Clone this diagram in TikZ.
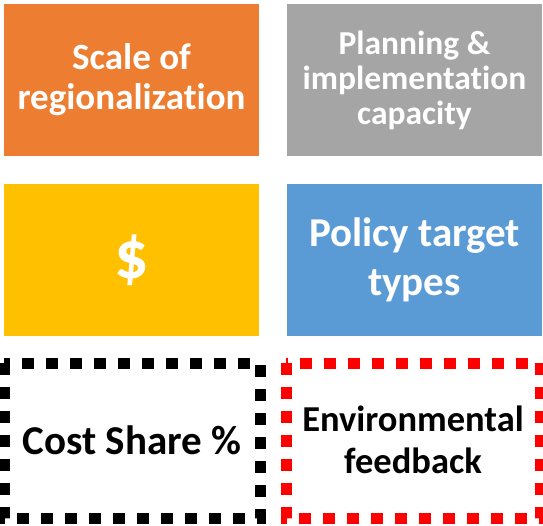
\documentclass[tikz,border=0pt]{standalone}
\usepackage{fontspec}
\setmainfont{Carlito}[RawFeature={-liga;-clig;-calt;-dlig}]
\definecolor{cOrange}{HTML}{ED7D31}
\definecolor{cGray}{HTML}{A5A5A5}
\definecolor{cYellow}{HTML}{FFC000}
\definecolor{cBlue}{HTML}{5B9BD5}
\definecolor{cRed}{HTML}{FF0000}
\newcommand{\nolig}{\kern0pt }
\begin{document}
\begin{tikzpicture}[x=1pt,y=-1pt,
  fillbox/.style={draw=none,rectangle,inner sep=0pt,text=white,font=\bfseries,align=center},
  dotbox/.style={line width=11pt,dash pattern=on 12pt off 12pt,line cap=butt},
  lbl/.style={inner sep=0pt,align=center,font=\bfseries}]
\useasboundingbox (0,0) rectangle (543,525);
% filled boxes
\node[fillbox,fill=cOrange,minimum width=255pt,minimum height=152pt] (scale) at (131.5,80) {};
\node[fillbox,fill=cGray,minimum width=255pt,minimum height=152pt] (plan) at (414.5,80) {};
\node[fillbox,fill=cYellow,minimum width=255pt,minimum height=152pt] (money) at (131.5,260) {};
\node[fillbox,fill=cBlue,minimum width=255pt,minimum height=152pt] (policy) at (414.5,260) {};
\node[lbl,text=white,font=\fontsize{37}{40}\selectfont\bfseries] (scaleT) at (scale) {Scale of\\regionalizat\nolig ion};
\node[lbl,text=white,font=\fontsize{33.5}{35}\selectfont\bfseries] (planT) at (plan) {Planning \&\\implementat\nolig ion\\capacity};
\node[lbl,text=white,font=\fontsize{68}{70}\selectfont\bfseries] (moneyT) at (money) {\$};
\node[lbl,text=white,font=\fontsize{41}{49}\selectfont\bfseries] (policyT) at (policy) {Policy target\\types};
% dotted boxes
\coordinate (c1a) at (4,363);
\coordinate (c1b) at (260,518);
\coordinate (c2a) at (286,363);
\coordinate (c2b) at (540,518);
\draw[dotbox,draw=black] (c1a) rectangle (c1b);
\draw[dotbox,draw=cRed] (c2a) rectangle (c2b);
\node[lbl,text=black,font=\fontsize{41}{45}\selectfont\bfseries] (cost) at (132,440) {Cost Share \%};
\node[lbl,text=black,font=\fontsize{36.5}{42}\selectfont\bfseries] (env) at (413,440) {Environmental\\feedback};
\end{tikzpicture}
\end{document}
